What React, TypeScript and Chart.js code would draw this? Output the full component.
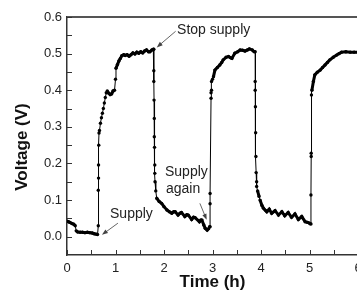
import React, { useEffect, useRef } from 'react';
import { Chart, registerables } from 'chart.js';

Chart.register(...registerables);

// Time (h)
const timeH = [
  0.0, 0.03, 0.06, 0.1, 0.14, 0.17, 0.19, 0.22, 0.27, 0.32, 0.37, 0.42, 0.47, 0.52, 0.56, 0.6, 0.63,
  0.645, 0.645, 0.65, 0.65, 0.655, 0.66,
  0.67, 0.69, 0.71, 0.73, 0.75, 0.77, 0.79, 0.81, 0.83, 0.86, 0.89, 0.92, 0.95, 0.98, 1.0, 1.01,
  1.04, 1.07, 1.1, 1.13, 1.17, 1.2, 1.24, 1.28, 1.32, 1.36, 1.4, 1.44, 1.48, 1.52, 1.56, 1.6, 1.64,
  1.68, 1.71, 1.75, 1.78,
  1.79, 1.79, 1.79, 1.795, 1.8, 1.8, 1.805, 1.81, 1.81, 1.815,
  1.83, 1.85, 1.9, 1.95, 2.0, 2.06, 2.11, 2.16, 2.2, 2.23, 2.29, 2.33, 2.36, 2.43, 2.47, 2.5, 2.57,
  2.61, 2.64, 2.73, 2.76, 2.78, 2.82, 2.85, 2.89, 2.92, 2.94,
  2.95, 2.95, 2.95, 2.97, 2.97, 2.98, 2.98, 3.0, 3.02, 3.05, 3.1, 3.15, 3.19, 3.22, 3.28, 3.33, 3.37,
  3.4, 3.46, 3.52, 3.57, 3.62, 3.67, 3.72, 3.76, 3.82, 3.86,
  3.88, 3.88, 3.88, 3.885, 3.89, 3.895, 3.9, 3.91, 3.91,
  3.93, 3.96, 3.98, 4.02, 4.05, 4.09, 4.12, 4.17, 4.22, 4.29, 4.36, 4.43, 4.49, 4.56, 4.63, 4.7,
  4.77, 4.84, 4.91, 4.96, 5.0, 5.02,
  5.03, 5.03, 5.035, 5.035, 5.04, 5.05, 5.08, 5.11, 5.16, 5.22, 5.27, 5.32, 5.37, 5.42, 5.49, 5.56,
  5.61, 5.66, 5.75, 5.84, 5.92, 6.0,
];

// Voltage (V)
const voltageV = [
  0.042, 0.041, 0.039, 0.036, 0.034, 0.03, 0.016, 0.013, 0.012, 0.012, 0.011, 0.012, 0.011, 0.01, 0.008, 0.007, 0.006,
  0.03, 0.127, 0.16, 0.196, 0.25, 0.283,
  0.29, 0.31, 0.325, 0.337, 0.35, 0.365, 0.38, 0.393, 0.398, 0.392, 0.388, 0.39, 0.398, 0.4, 0.43, 0.46,
  0.47, 0.48, 0.487, 0.494, 0.497, 0.495, 0.497, 0.493, 0.497, 0.502, 0.499, 0.504, 0.501, 0.505, 0.502, 0.507, 0.51,
  0.505, 0.505, 0.51, 0.512,
  0.512, 0.453, 0.424, 0.373, 0.323, 0.273, 0.244, 0.196, 0.173, 0.15,
  0.125, 0.105, 0.096, 0.091, 0.082, 0.073, 0.068, 0.064, 0.068, 0.068, 0.059, 0.064, 0.066, 0.055, 0.06, 0.059, 0.047,
  0.053, 0.052, 0.041, 0.046, 0.046, 0.032, 0.023, 0.018, 0.022, 0.027,
  0.027, 0.09, 0.118, 0.378, 0.393, 0.4, 0.424, 0.43, 0.437, 0.455, 0.462, 0.469, 0.476, 0.483, 0.49, 0.492, 0.489,
  0.487, 0.501, 0.505, 0.51, 0.509, 0.507, 0.51, 0.513, 0.51, 0.505,
  0.505, 0.424, 0.4, 0.355, 0.284, 0.219, 0.175, 0.15, 0.137,
  0.125, 0.11, 0.1, 0.085, 0.078, 0.072, 0.068, 0.075, 0.064, 0.071, 0.059, 0.068, 0.057, 0.066, 0.053, 0.062,
  0.047, 0.055, 0.041, 0.039, 0.037, 0.035,
  0.035, 0.114, 0.219, 0.228, 0.387, 0.4, 0.424, 0.442, 0.449, 0.455, 0.462, 0.469, 0.476, 0.483, 0.49, 0.496,
  0.5, 0.504, 0.505, 0.504, 0.504, 0.504,
];

const xTicks = [0, 1, 2, 3, 4, 5, 6];
const xMinorTicks = [0.5, 1.5, 2.5, 3.5, 4.5, 5.5];
const yTicks = [0.0, 0.1, 0.2, 0.3, 0.4, 0.5, 0.6];
const yMinorTicks = [0.05, 0.15, 0.25, 0.35, 0.45, 0.55];

// Annotation labels (text, left anchor in data units)
const labelTexts = ['Stop supply', 'Supply', 'Supply', 'again'];
const labelT = [2.27, 0.887, 2.02, 2.04];
const labelV = [0.565, 0.062, 0.177, 0.130];

// Annotation arrows (from -> to, arrowhead at "to")
const arrowFromT = [2.24, 1.05, 2.74];
const arrowFromV = [0.561, 0.037, 0.091];
const arrowToT = [1.85, 0.72, 2.88];
const arrowToV = [0.517, 0.005, 0.046];

const FONT = '"Liberation Sans", Arial, Helvetica, sans-serif';

const decorPlugin = {
  id: 'decor',
  afterDatasetsDraw(chart: any) {
    const { ctx, chartArea, scales } = chart;
    const xs = scales.x;
    const ys = scales.y;
    ctx.save();
    // top frame line
    ctx.strokeStyle = '#555';
    ctx.lineWidth = 2;
    ctx.beginPath();
    ctx.moveTo(chartArea.left, chartArea.top);
    ctx.lineTo(chartArea.right + 2, chartArea.top);
    ctx.stroke();

    // inward ticks
    ctx.strokeStyle = '#333';
    ctx.lineWidth = 1;
    const tl = 5;
    [...xTicks, ...xMinorTicks].forEach((t) => {
      const px = Math.round(xs.getPixelForValue(t)) + 0.5;
      ctx.beginPath();
      ctx.moveTo(px, chartArea.bottom);
      ctx.lineTo(px, chartArea.bottom - tl);
      ctx.stroke();
    });
    [...yTicks, ...yMinorTicks].forEach((v) => {
      const py = Math.round(ys.getPixelForValue(v)) + 0.5;
      ctx.beginPath();
      ctx.moveTo(chartArea.left, py);
      ctx.lineTo(chartArea.left + tl, py);
      ctx.stroke();
    });

    // annotation text
    ctx.fillStyle = '#222';
    ctx.font = `14px ${FONT}`;
    ctx.textAlign = 'left';
    ctx.textBaseline = 'middle';
    labelTexts.forEach((txt, i) => {
      ctx.fillText(txt, xs.getPixelForValue(labelT[i]), ys.getPixelForValue(labelV[i]));
    });

    // arrows
    ctx.strokeStyle = '#666';
    ctx.fillStyle = '#444';
    ctx.lineWidth = 1;
    arrowFromT.forEach((_, i) => {
      const x0 = xs.getPixelForValue(arrowFromT[i]);
      const y0 = ys.getPixelForValue(arrowFromV[i]);
      const x1 = xs.getPixelForValue(arrowToT[i]);
      const y1 = ys.getPixelForValue(arrowToV[i]);
      const ang = Math.atan2(y1 - y0, x1 - x0);
      const hl = 6;
      const hw = 2.2;
      ctx.beginPath();
      ctx.moveTo(x0, y0);
      ctx.lineTo(x1 - Math.cos(ang) * hl * 0.8, y1 - Math.sin(ang) * hl * 0.8);
      ctx.stroke();
      ctx.beginPath();
      ctx.moveTo(x1, y1);
      ctx.lineTo(x1 - Math.cos(ang) * hl - Math.sin(ang) * hw, y1 - Math.sin(ang) * hl + Math.cos(ang) * hw);
      ctx.lineTo(x1 - Math.cos(ang) * hl + Math.sin(ang) * hw, y1 - Math.sin(ang) * hl - Math.cos(ang) * hw);
      ctx.closePath();
      ctx.fill();
    });

    // y axis title
    ctx.fillStyle = '#111';
    ctx.font = `bold 17px ${FONT}`;
    ctx.textAlign = 'center';
    ctx.textBaseline = 'middle';
    ctx.translate(22, (chartArea.top + chartArea.bottom) / 2 + 11);
    ctx.rotate(-Math.PI / 2);
    ctx.fillText('Voltage (V)', 0, 0);
    ctx.restore();
  },
};

export default function App() {
  const canvasRef = useRef<HTMLCanvasElement | null>(null);

  useEffect(() => {
    const canvas = canvasRef.current;
    if (!canvas) return;
    const points = timeH.map((t, i) => ({ x: t, y: voltageV[i] }));
    const chart = new Chart(canvas, {
      type: 'scatter',
      data: {
        datasets: [
          {
            data: points,
            showLine: true,
            borderColor: '#000',
            backgroundColor: '#000',
            borderWidth: 1,
            pointRadius: 1.7,
            pointBorderWidth: 0,
            pointBackgroundColor: '#000',
            segment: {
              borderWidth: (c: any) => (Math.abs(c.p1.x - c.p0.x) < 1.2 ? 1 : 3),
            },
          } as any,
        ],
      },
      options: {
        animation: false,
        responsive: false,
        devicePixelRatio: 1,
        layout: { padding: { top: 17, right: 14, bottom: 0, left: 0 } },
        plugins: { legend: { display: false }, tooltip: { enabled: false } },
        scales: {
          x: {
            type: 'linear',
            min: 0,
            max: 6,
            afterBuildTicks: (s: any) => {
              s.ticks = xTicks.map((v) => ({ value: v }));
            },
            afterFit: (s: any) => {
              s.height = 41;
              s.paddingLeft = 0;
              s.paddingRight = 0;
            },
            grid: { display: true, drawOnChartArea: false, drawTicks: false },
            border: { display: true, color: '#333', width: 1.5 },
            ticks: {
              padding: 6,
              color: '#222',
              font: { family: FONT, size: 13 },
              maxRotation: 0,
              callback: (v: any) => String(v),
            },
            title: {
              display: true,
              text: 'Time (h)',
              color: '#111',
              font: { family: FONT, size: 17, weight: 'bold' },
              padding: { top: 0, bottom: 3 },
            },
          },
          y: {
            type: 'linear',
            min: -0.05,
            max: 0.6,
            afterBuildTicks: (s: any) => {
              s.ticks = yTicks.map((v) => ({ value: v }));
            },
            afterFit: (s: any) => {
              s.width = 67;
            },
            grid: { display: true, drawOnChartArea: false, drawTicks: false },
            border: { display: true, color: '#333', width: 1.5 },
            ticks: {
              padding: 5,
              color: '#222',
              font: { family: FONT, size: 13 },
              callback: (v: any) => Number(v).toFixed(1),
            },
          },
        },
      },
      plugins: [decorPlugin],
    });
    return () => chart.destroy();
  }, []);

  return (
    <div
      style={{
        position: 'fixed',
        left: 0,
        top: 0,
        width: 357,
        height: 296,
        overflow: 'hidden',
        background: '#fff',
      }}
    >
      <canvas ref={canvasRef} width={372} height={296} style={{ display: 'block', width: 372, height: 296 }} />
    </div>
  );
}
